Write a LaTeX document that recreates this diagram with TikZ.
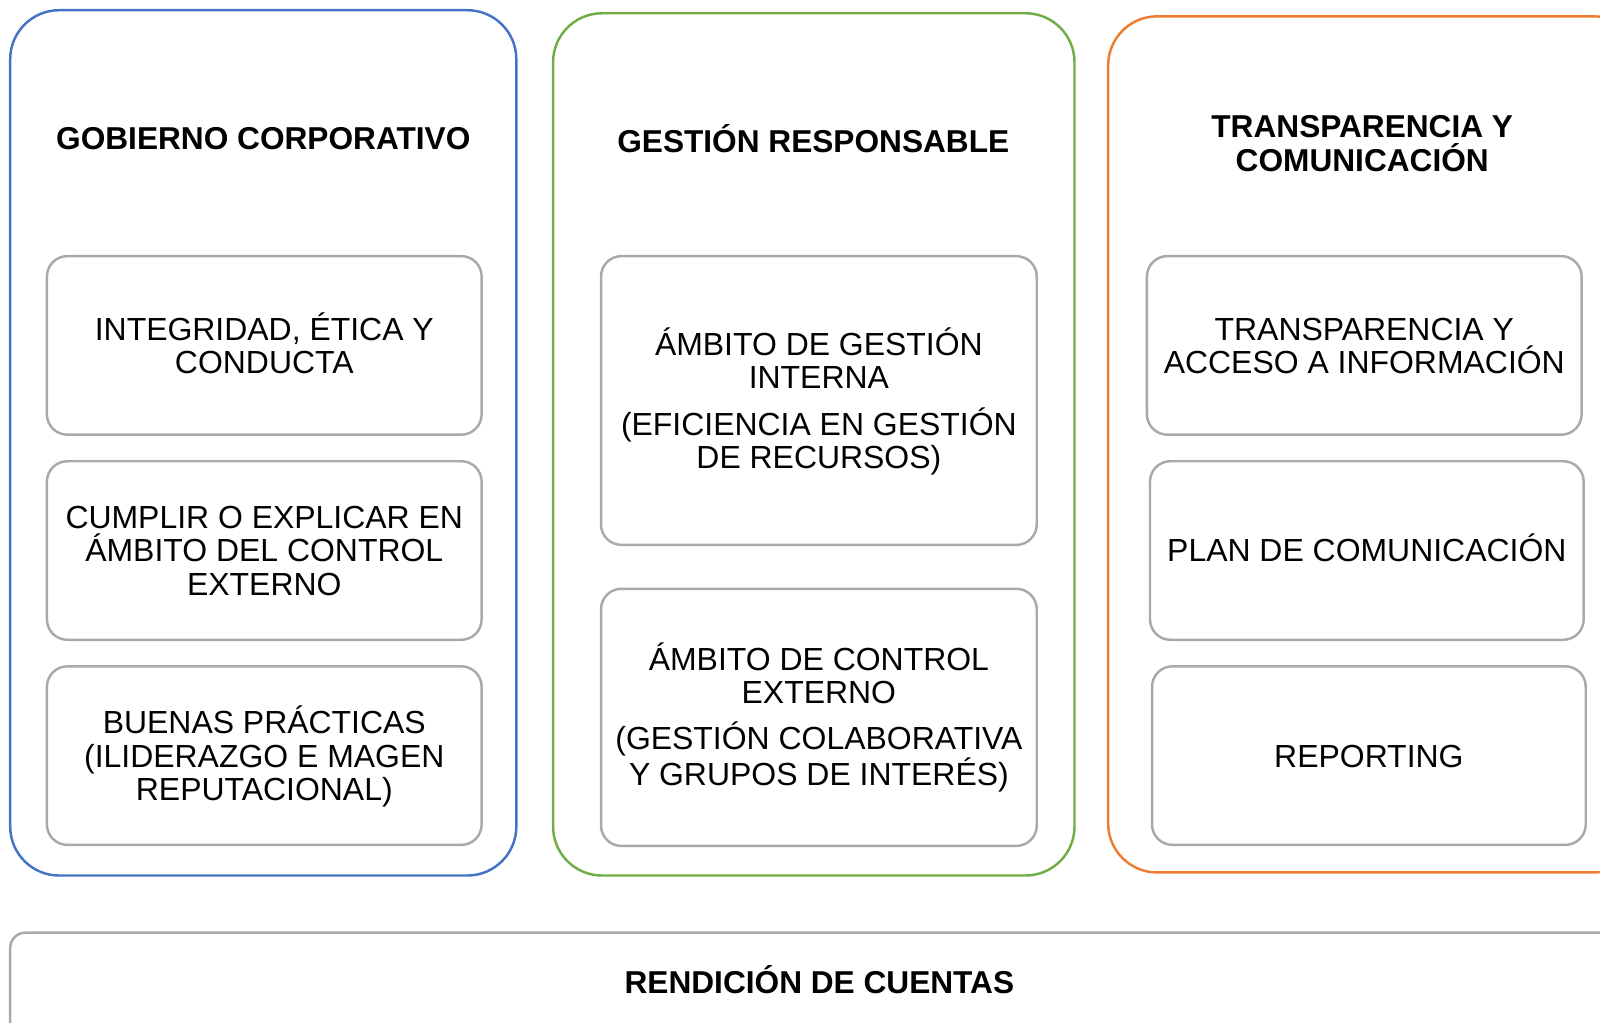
\documentclass[tikz,border=0pt]{standalone}
\usepackage{fontspec}
\setmainfont{Liberation Sans}
\definecolor{cblue}{HTML}{4472C4}
\definecolor{cgreen}{HTML}{70AD47}
\definecolor{corange}{HTML}{ED7D31}
\definecolor{cgray}{HTML}{A9A9A9}
\begin{document}
\begin{tikzpicture}[x=1pt,y=-1pt,
  outerbox/.style={draw, line width=2.4pt, rounded corners=48pt, inner sep=0pt},
  innerbox/.style={draw=cgray, line width=2.4pt, rounded corners=20pt, inner sep=0pt,
    align=center, font=\fontsize{31.3}{32.4}\selectfont, text height=#1, text depth=0pt},
  innerbox/.default=22.4pt,
  titletext/.style={align=center, font=\fontsize{31}{33}\selectfont\bfseries, inner sep=0pt,
    text height=#1, text depth=0pt},
  titletext/.default=22.3pt]
\useasboundingbox (0,0) rectangle (1568,1002.5);
\clip (0,0) rectangle (1568,1002.5);
% outer columns
\node[outerbox, draw=cblue, minimum width=496pt, minimum height=848pt] (colA) at (258,434) {};
\node[outerbox, draw=cgreen, minimum width=511pt, minimum height=845pt] (colB) at (797.5,435.5) {};
\node[outerbox, draw=corange, minimum width=524pt, minimum height=839pt] (colC) at (1348,435.5) {};
% titles
\node[titletext] (tA) at (258,135) {GOBIERNO CORPORATIVO};
\node[titletext] (tB) at (797,138) {GESTIÓN RESPONSABLE};
\node[titletext=55.3pt] (tC) at (1335,140.5) {TRANSPARENCIA Y\\COMUNICACIÓN};
% left column
\node[innerbox=54.8pt, minimum width=426pt, minimum height=175pt] (a1) at (259,338.5) {INTEGRIDAD, ÉTICA Y\\CONDUCTA};
\node[innerbox=87.2pt, minimum width=426pt, minimum height=175pt] (a2) at (259,539.5) {CUMPLIR O EXPLICAR EN\\ÁMBITO DEL CONTROL\\EXTERNO};
\node[innerbox=87.2pt, minimum width=426pt, minimum height=175pt] (a3) at (259,740.5) {BUENAS PRÁCTICAS\\(ILIDERAZGO E MAGEN\\REPUTACIONAL)};
% middle column
\node[innerbox=132.6pt, minimum width=427pt, minimum height=283pt] (b1) at (802.5,392.5) {ÁMBITO DE GESTIÓN\\INTERNA\\[13pt](EFICIENCIA EN GESTIÓN\\DE RECURSOS)};
\node[innerbox=132.6pt, minimum width=427pt, minimum height=252pt] (b2) at (802.5,703) {ÁMBITO DE CONTROL\\EXTERNO\\[13pt](GESTIÓN COLABORATIVA\\Y GRUPOS DE INTERÉS)};
% right column
\node[innerbox=54.8pt, minimum width=426pt, minimum height=175pt] (c1) at (1337,338.5) {TRANSPARENCIA Y\\ACCESO A INFORMACIÓN};
\node[innerbox, minimum width=425pt, minimum height=175pt] (c2) at (1339.5,539.5) {PLAN DE COMUNICACIÓN};
\node[innerbox, minimum width=425pt, minimum height=175pt] (c3) at (1341.5,740.5) {REPORTING};
% bottom bar
\node[draw=cgray, line width=2.4pt, rounded corners=15pt, inner sep=0pt, minimum width=1610pt, minimum height=120pt] (bar) at (815,974) {};
\node[titletext] (tbar) at (803,962) {RENDICIÓN DE CUENTAS};
\end{tikzpicture}
\end{document}
